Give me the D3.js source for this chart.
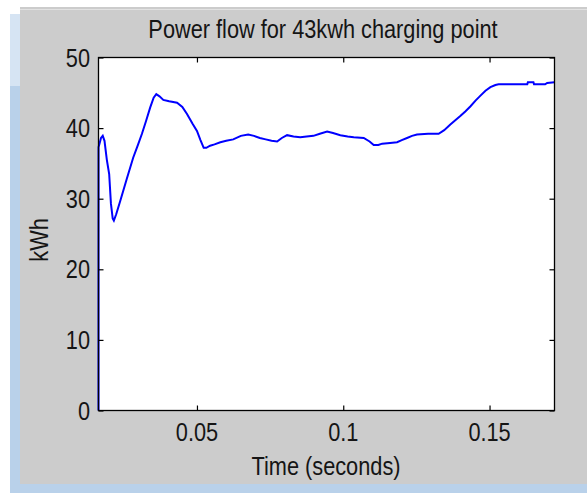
<!DOCTYPE html>
<html>
<head>
<meta charset="utf-8">
<script src="https://cdn.jsdelivr.net/npm/d3@7"></script>
<style>
html,body{margin:0;padding:0;background:#ffffff;}
svg{display:block;}
text{font-family:"Liberation Sans",Arial,sans-serif;fill:#151515;}
</style>
</head>
<body>
<svg id="chart" width="587" height="493"></svg>
<script>
const titleText = "Power flow for 43kwh charging point";
const xLabel = "Time (seconds)";
const yLabel = "kWh";
const xTicks = [0.05, 0.1, 0.15];
const xTickLabels = ["0.05", "0.1", "0.15"];
const yTicks = [0, 10, 20, 30, 40, 50];
const yTickLabels = ["0", "10", "20", "30", "40", "50"];
const xDomain = [0.01635, 0.1722];
const yDomain = [0, 50];

const times = [0.01635,0.01637,0.0172,0.0178,0.0184,0.0192,0.0200,0.0206,0.0212,0.0216,0.0224,0.0238,0.0260,0.0282,0.0298,0.0312,0.0326,0.0340,0.0352,0.0361,0.0372,0.0385,0.0405,0.0432,0.0450,0.0466,0.0485,0.0500,0.0512,0.0523,0.0532,0.0545,0.0560,0.0580,0.0600,0.0624,0.0650,0.0675,0.0695,0.0715,0.0735,0.0755,0.0774,0.0790,0.0808,0.0830,0.0853,0.0875,0.0898,0.0920,0.0945,0.0965,0.0990,0.1015,0.1036,0.1070,0.1090,0.1104,0.1120,0.1133,0.1160,0.1184,0.1200,0.1218,0.1235,0.1252,0.1290,0.1326,0.1345,0.1366,0.1383,0.1400,0.1418,0.1435,0.1452,0.1469,0.1486,0.1503,0.1520,0.1531,0.1600,0.1629,0.1631,0.1650,0.1652,0.1663,0.1690,0.1697,0.1722];
const power = [0,37.3,38.6,38.9,38.2,35.5,33.5,29.3,27.2,26.9,27.8,29.7,32.8,35.8,37.6,39.2,41.0,42.9,44.3,44.8,44.5,44.0,43.8,43.6,43.0,42.0,40.6,39.6,38.3,37.2,37.2,37.5,37.7,38.0,38.2,38.4,38.9,39.1,38.9,38.6,38.4,38.2,38.1,38.6,39.0,38.8,38.7,38.8,38.9,39.2,39.5,39.3,39.0,38.8,38.7,38.6,38.1,37.6,37.6,37.8,37.9,38.0,38.3,38.6,38.9,39.1,39.2,39.2,39.7,40.5,41.1,41.7,42.4,43.1,43.9,44.6,45.3,45.8,46.1,46.2,46.2,46.2,46.5,46.5,46.2,46.2,46.2,46.4,46.5];

const svg = d3.select("#chart");
const W = 587, H = 493;
const plot = {left: 98.5, top: 57.5, right: 554.5, bottom: 410.5};
const fontSize = 25, squeeze = 0.87;

// window frame
svg.append("rect").attr("x",0).attr("y",0).attr("width",W).attr("height",H).attr("fill","#ffffff");
svg.append("rect").attr("x",10).attr("y",14).attr("width",W-10).attr("height",H-14).attr("fill","#b9d1ea");
svg.append("rect").attr("x",10).attr("y",14).attr("width",10).attr("height",72).attr("fill","#d6e4f3");
svg.append("rect").attr("x",20).attr("y",7).attr("width",W-20).attr("height",477).attr("fill","#cccccc");
svg.append("line").attr("x1",20).attr("x2",W).attr("y1",9.5).attr("y2",9.5).attr("stroke","#e2e2e2").attr("stroke-width",1);

const x = d3.scaleLinear().domain(xDomain).range([plot.left, plot.right]);
const y = d3.scaleLinear().domain(yDomain).range([plot.bottom, plot.top]);

svg.append("rect").attr("x",plot.left).attr("y",plot.top)
  .attr("width",plot.right-plot.left).attr("height",plot.bottom-plot.top).attr("fill","#ffffff");

function squeezedText(g, tx, ty, txt, anchor, rot) {
  return g.append("text")
    .attr("transform", `translate(${tx},${ty})` + (rot ? ` rotate(${rot})` : "") + ` scale(${squeeze},1)`)
    .attr("text-anchor", anchor)
    .attr("font-size", fontSize)
    .text(txt);
}

// data line
const line = d3.line().x((d,i)=>x(times[i])).y((d,i)=>y(power[i]));
svg.append("path").datum(power).attr("d", line)
  .attr("fill","none").attr("stroke","#0000ff").attr("stroke-width",2).attr("stroke-linejoin","miter");

// axes (inward ticks, box)
const tl = 5;
const axB = d3.axisBottom(x).tickValues(xTicks).tickSize(-tl).tickFormat("");
const axT = d3.axisTop(x).tickValues(xTicks).tickSize(-tl).tickFormat("");
const axL = d3.axisLeft(y).tickValues(yTicks).tickSize(-tl).tickFormat("");
const axR = d3.axisRight(y).tickValues(yTicks).tickSize(-tl).tickFormat("");
[[axB,`translate(0,${plot.bottom})`],[axT,`translate(0,${plot.top})`],[axL,`translate(${plot.left},0)`],[axR,`translate(${plot.right},0)`]].forEach(([a,tr])=>{
  const g = svg.append("g").attr("transform",tr).call(a);
  g.select(".domain").remove();
  g.selectAll("line").attr("stroke","#000").attr("stroke-width",1.2);
});
svg.append("rect").attr("x",plot.left).attr("y",plot.top)
  .attr("width",plot.right-plot.left).attr("height",plot.bottom-plot.top)
  .attr("fill","none").attr("stroke","#000").attr("stroke-width",1.3);

// tick labels
const lab = svg.append("g");
xTicks.forEach((v,i)=>squeezedText(lab, x(v), 441, xTickLabels[i], "middle"));
yTicks.forEach((v,i)=>squeezedText(lab, 90, y(v)+9, yTickLabels[i], "end"));

// titles
squeezedText(svg, 323, 38, titleText, "middle");
squeezedText(svg, 326, 475, xLabel, "middle");
squeezedText(svg, 48, 240, yLabel, "middle", -90);
</script>
</body>
</html>
